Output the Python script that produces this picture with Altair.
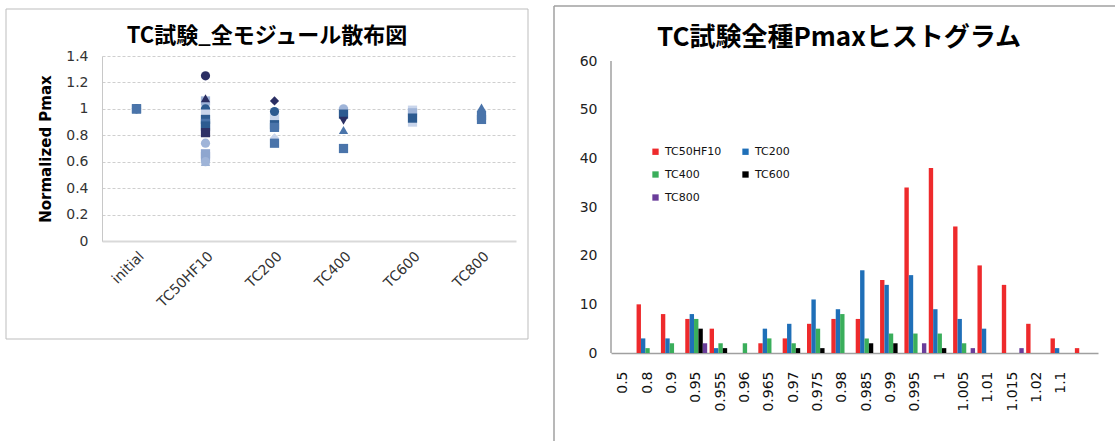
import altair as alt
import pandas as pd

# ---------------- scatter: normalized Pmax of every module per stage ----------------
stages = ["initial", "TC50HF10", "TC200", "TC400", "TC600", "TC800"]

sc_stage = (
    ["initial"] * 3
    + ["TC50HF10"] * 14
    + ["TC200"] * 7
    + ["TC400"] * 6
    + ["TC600"] * 4
    + ["TC800"] * 3
)
sc_value = (
    [1.00, 1.00, 1.00]
    + [1.06, 1.25, 1.08, 1.00, 0.96, 0.92, 0.89, 0.87, 0.82, 0.74, 0.66, 0.64, 0.60, 0.60]
    + [0.93, 1.06, 0.98, 0.88, 0.86, 0.78, 0.74]
    + [0.98, 1.00, 0.96, 0.91, 0.84, 0.70]
    + [0.99, 0.97, 0.90, 0.93]
    + [0.95, 0.92, 1.01]
)
sc_series = (
    ["s05", "s04", "s12"]
    + ["s03", "s01", "s02", "s04", "s15", "s05", "s12", "s05", "s06", "s07", "s08", "s08", "s09", "s07"]
    + ["s15", "s10", "s04", "s05", "s12", "s11", "s12"]
    + ["s15", "s07", "s05", "s14", "s13", "s12"]
    + ["s15", "s03", "s15", "s05"]
    + ["s12", "s12", "s13"]
)

series_names = ["s01", "s02", "s03", "s04", "s05", "s06", "s07", "s08",
                "s09", "s10", "s11", "s12", "s13", "s14", "s15"]
series_shapes = ["circle", "triangle-up", "square", "circle", "square", "square", "circle", "square",
                 "triangle-up", "diamond", "diamond", "square", "triangle-up", "triangle-down", "square"]
series_colors = ["#2b2f63", "#2b2f63", "#9fb4d8", "#2d5b90", "#2d5b90", "#2e3166", "#9fb4d8", "#8ea6cf",
                 "#7f99c4", "#2b2f63", "#c9d5eb", "#4a74aa", "#4a74aa", "#2b2f63", "#c9d5eb"]

# ---------------- histogram: counts per Pmax bin ----------------
bins = ["0.5", "0.8", "0.9", "0.95", "0.955", "0.96", "0.965", "0.97", "0.975", "0.98",
        "0.985", "0.99", "0.995", "1", "1.005", "1.01", "1.015", "1.02", "1.1", " "]
tc50hf10 = [0, 10, 8, 7, 5, 0, 2, 3, 6, 7, 7, 15, 34, 38, 26, 18, 14, 6, 3, 1]
tc200 = [0, 3, 3, 8, 1, 0, 5, 6, 11, 9, 17, 14, 16, 9, 7, 5, 0, 0, 1, 0]
tc400 = [0, 1, 2, 7, 2, 2, 3, 2, 5, 8, 3, 4, 4, 4, 2, 0, 0, 0, 0, 0]
tc600 = [0, 0, 0, 5, 1, 0, 0, 1, 1, 0, 2, 2, 0, 1, 0, 0, 0, 0, 0, 0]
tc800 = [0, 0, 0, 2, 0, 0, 0, 0, 0, 0, 0, 0, 2, 0, 1, 0, 1, 0, 0, 0]

hist_series = ["TC50HF10", "TC200", "TC400", "TC600", "TC800"]
hist_colors = ["#ee2a2c", "#1f6fb8", "#3aae5b", "#000000", "#6a3d9a"]
# legend fills column by column: first column, then second
legend_order = ["TC50HF10", "TC400", "TC800", "TC200", "TC600"]

scatter_title = "TC試験_全モジュール散布図"
hist_title = "TC試験全種Pmaxヒストグラム"

LABEL_FONT = "DejaVu Sans"
CJK_FONT = "Noto Sans CJK JP"

scatter_df = pd.DataFrame({"stage": sc_stage, "pmax": sc_value, "series": sc_series})

rows = []
for name, counts in zip(hist_series, [tc50hf10, tc200, tc400, tc600, tc800]):
    for b, c in zip(bins, counts):
        rows.append({"bin": b, "series": name, "count": c})
hist_df = pd.DataFrame(rows)

one_row = pd.DataFrame({"k": [0]})

# ---------------- left panel ----------------
points = alt.Chart(scatter_df).mark_point(filled=True, size=85, opacity=1).encode(
    x=alt.X(
        "stage:N",
        scale=alt.Scale(type="point", domain=stages, padding=0.5),
        axis=alt.Axis(
            title=None, labelAngle=-45, labelFont=LABEL_FONT, labelFontSize=14,
            labelColor="#333333", ticks=False, domainColor="#d9d9d9", domainWidth=2,
            labelPadding=8, grid=False,
        ),
    ),
    y=alt.Y(
        "pmax:Q",
        scale=alt.Scale(domain=[0, 1.4], nice=False),
        axis=alt.Axis(
            title="Normalized Pmax", titleFont=LABEL_FONT, titleFontSize=15,
            titleFontWeight="bold", titleColor="#000000", titlePadding=12,
            values=[0, 0.2, 0.4, 0.6, 0.8, 1.0, 1.2, 1.4], format="~g",
            labelFont=LABEL_FONT, labelFontSize=14, labelColor="#333333", labelPadding=14,
            ticks=False, domainColor="#c8c8c8", gridColor="#cfcfcf", gridDash=[3, 2],
        ),
    ),
    shape=alt.Shape("series:N", scale=alt.Scale(domain=series_names, range=series_shapes), legend=None),
    color=alt.Color("series:N", scale=alt.Scale(domain=series_names, range=series_colors), legend=None),
)

left_frame = alt.Chart(one_row).mark_rect(fillOpacity=0, stroke="#bdbdbd", strokeWidth=1).encode(
    x=alt.value(-96), x2=alt.value(426), y=alt.value(-47), y2=alt.value(283)
)
# white spacer keeps both panels' upper extents equal
left_spacer = alt.Chart(one_row).mark_rule(color="#ffffff", strokeWidth=1).encode(
    x=alt.value(-96), x2=alt.value(-95), y=alt.value(-50)
)
left_title = alt.Chart(one_row).mark_text(
    text=scatter_title, font=CJK_FONT, fontSize=22, fontWeight="bold", color="#000000",
    align="center", baseline="middle",
).encode(x=alt.value(165), y=alt.value(-20))

left = alt.layer(left_spacer, left_frame, left_title, points).properties(width=414, height=185)

# ---------------- right panel ----------------
bars = alt.Chart(hist_df).transform_filter("datum.count > 0").mark_bar().encode(
    x=alt.X(
        "bin:N",
        scale=alt.Scale(domain=bins, paddingInner=0.1, paddingOuter=0.05),
        axis=alt.Axis(
            title=None, labelAngle=-90, labelFont=LABEL_FONT, labelFontSize=14,
            labelColor="#111111", ticks=False, domainColor="#a0a0a0", domainWidth=1.5,
            labelPadding=18, grid=False,
        ),
    ),
    xOffset=alt.XOffset("series:N", scale=alt.Scale(domain=hist_series, paddingInner=0, paddingOuter=0)),
    y=alt.Y(
        "count:Q",
        scale=alt.Scale(domain=[0, 61.03], nice=False),
        axis=alt.Axis(
            title=None, values=[0, 10, 20, 30, 40, 50, 60], labelFont=LABEL_FONT,
            labelFontSize=14, labelColor="#222222", labelPadding=14, ticks=False,
            domain=False, gridColor="#a6a6a6", gridWidth=1.5,
        ),
    ),
    color=alt.Color(
        "series:N",
        scale=alt.Scale(domain=hist_series, range=hist_colors),
        legend=alt.Legend(
            title=None, orient="none", legendX=28, legendY=79, columns=2,
            values=legend_order,
            symbolType="square", symbolSize=40, symbolStrokeWidth=0,
            labelFont=LABEL_FONT, labelFontSize=11, labelColor="#111111",
            fillColor="#ffffff", padding=11, rowPadding=11, columnPadding=18,
        ),
    ),
)

y_line = alt.Chart(one_row).mark_rule(color="#a0a0a0", strokeWidth=1.5).encode(
    x=alt.value(0), y=alt.datum(0), y2=alt.datum(60)
)
frame_left = alt.Chart(one_row).mark_rule(color="#a0a0a0", strokeWidth=1.5).encode(
    x=alt.value(-57), y=alt.value(-50), y2=alt.value(385)
)
frame_top = alt.Chart(one_row).mark_rule(color="#a0a0a0", strokeWidth=1.5).encode(
    x=alt.value(-57), x2=alt.value(504), y=alt.value(-50)
)
right_title = alt.Chart(one_row).mark_text(
    text=hist_title, font=CJK_FONT, fontSize=26, fontWeight="bold", color="#000000",
    align="center", baseline="middle",
).encode(x=alt.value(228), y=alt.value(-18))

right = alt.layer(frame_left, frame_top, right_title, y_line, bars).properties(width=487, height=297)

chart = (
    alt.hconcat(left, right, spacing=24)
    .resolve_scale(color="independent", shape="independent")
    .resolve_legend(color="independent", shape="independent")
    .properties(padding={"left": 5, "top": 5, "right": 0, "bottom": 0}, background="#ffffff")
    .configure_view(strokeWidth=0)
)

chart.save("out.html", embed_options={"renderer": "svg", "actions": False})
